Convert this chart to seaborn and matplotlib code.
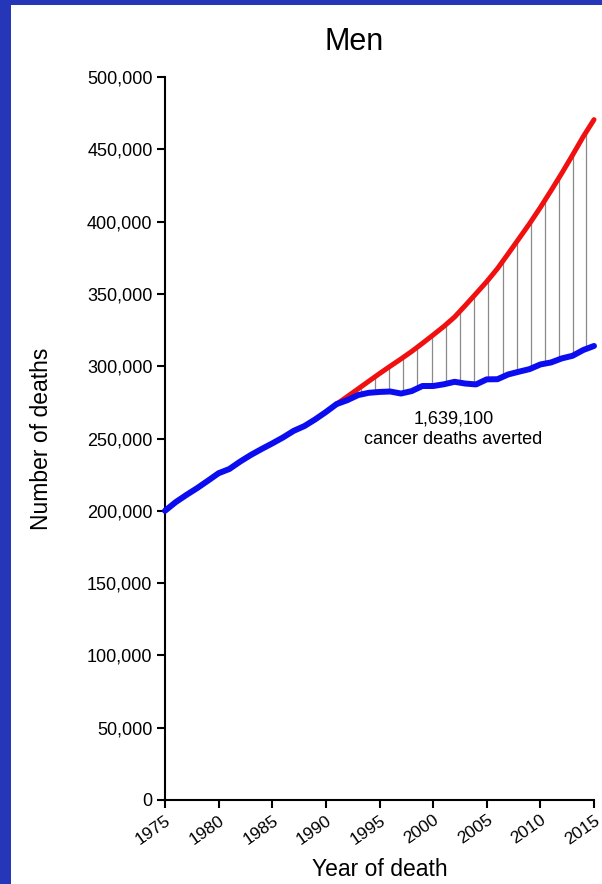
import numpy as np
import pandas as pd
import matplotlib.pyplot as plt
import matplotlib.ticker as mticker
from matplotlib.patches import Rectangle
import seaborn as sns

# Observed deaths (blue) and deaths expected at 1990 rates (red)
years = list(range(1975, 2016))
observed = [200000, 206000, 211000, 215700, 220800, 226000, 228900, 234000,
            238600, 242700, 246600, 250700, 255300, 258600, 263200, 268300,
            273800, 276500, 280000, 281600, 282200, 282500, 281100, 282800,
            286300, 286300, 287500, 289200, 288000, 287400, 290900, 291000,
            294300, 296200, 298000, 301200, 302600, 305400, 307200, 311200,
            314000]
expected_years = list(range(1991, 2016))
expected = [273800, 279000, 284300, 289600, 294900, 300000, 305000, 310200,
            315800, 321600, 327500, 334000, 342000, 350200, 358500, 367500,
            377800, 388200, 398700, 409800, 421500, 433500, 446000, 458800,
            470500]
hatch_years = [1993.3, 1994.6, 1995.9, 1997.2, 1998.5, 1999.9, 2001.2, 2002.5,
               2003.8, 2005.1, 2006.5, 2007.8, 2009.1, 2010.4, 2011.7, 2013.0,
               2014.3]
x_ticks = list(range(1975, 2016, 5))
y_ticks = list(range(0, 500001, 50000))
note = "1,639,100\ncancer deaths averted"

sns.set_theme(style='ticks')
plt.rcParams['font.family'] = ['Liberation Sans', 'DejaVu Sans']
plt.rcParams['text.color'] = 'black'
plt.rcParams['axes.labelcolor'] = 'black'

fig = plt.figure(figsize=(6.02, 8.84), dpi=100)
fig.patch.set_facecolor('#2636b8')
fig.add_artist(Rectangle((11 / 602, 0), 1, 1 - 5 / 884, transform=fig.transFigure,
                         facecolor='white', edgecolor='none', zorder=-1))

ax = fig.add_axes([165 / 602, 84 / 884, 429 / 602, 723 / 884])
ax.set_facecolor('white')

# vertical lines between the two curves
top = np.interp(hatch_years, expected_years, expected)
bottom = np.interp(hatch_years, years, observed)
ax.vlines(hatch_years, bottom, top, color='#8a8a8a', linewidth=0.9, zorder=1)

sns.lineplot(x=expected_years, y=expected, ax=ax, color='#f01010',
             linewidth=3.6, zorder=2, clip_on=False)
sns.lineplot(x=years, y=observed, ax=ax, color='#0c0cf0',
             linewidth=4.3, zorder=3, clip_on=False)

ax.set_xlim(1975, 2015)
ax.set_ylim(0, 500000)
ax.set_xticks(x_ticks)
ax.set_yticks(y_ticks)
ax.yaxis.set_major_formatter(mticker.StrMethodFormatter('{x:,.0f}'))
sns.despine(ax=ax)
for s in ['left', 'bottom']:
    ax.spines[s].set_linewidth(1.5)
    ax.spines[s].set_color('black')
ax.tick_params(direction='out', length=6, width=1.5, labelsize=13, pad=3,
               color='black', labelcolor='black')
ax.tick_params(axis='x', labelsize=12.5)
plt.setp(ax.get_xticklabels(), rotation=35, ha='right', rotation_mode='anchor')

ax.set_xlabel('Year of death', fontsize=16.5)
ax.set_ylabel('Number of deaths', fontsize=16.5)
ax.xaxis.set_label_coords(0.5, -0.080)
ax.yaxis.set_label_coords(-0.26, 0.5)

ax.text(2001.9, 256200, note, ha='center', va='center', fontsize=13,
        linespacing=1.25)
fig.text(354 / 602, 1 - 42 / 884, 'Men', ha='center', va='center', fontsize=22)

fig.savefig('out.png', dpi=100, facecolor=fig.get_facecolor())
